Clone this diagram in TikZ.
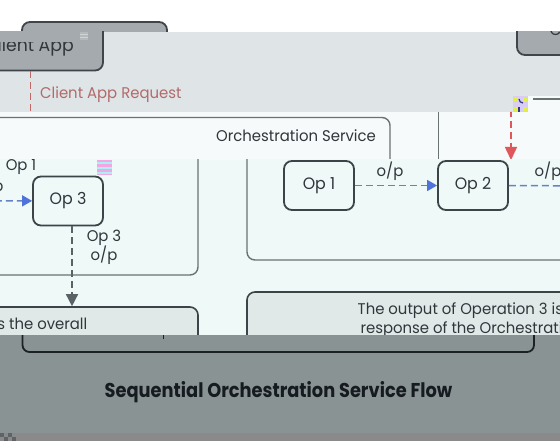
\documentclass[tikz,border=0pt]{standalone}
\usepackage{fontspec}
\setmainfont{Poppins}[FakeStretch=0.96]
\newfontfamily\titlefont{Poppins}[FakeStretch=0.89]
\usetikzlibrary{arrows.meta}
\definecolor{bgB}{HTML}{DFE4E6}
\definecolor{bgC}{HTML}{F6FAFA}
\definecolor{bgD}{HTML}{EFF9F8}
\definecolor{bgE}{HTML}{8A9393}
\definecolor{bgF}{HTML}{8A8A8A}
\definecolor{cafill}{HTML}{A4AAAD}
\definecolor{boxline}{HTML}{3F454A}
\definecolor{opline}{HTML}{3D4447}
\definecolor{contline}{HTML}{6B7272}
\definecolor{txt}{HTML}{30363A}
\definecolor{redtxt}{HTML}{B36A6A}
\definecolor{redlineB}{HTML}{C26868}
\definecolor{redarr}{HTML}{E0575B}
\definecolor{blueline}{HTML}{6582C8}
\definecolor{bluehead}{HTML}{4F73D9}
\definecolor{greyarr}{HTML}{5A6266}
\definecolor{outfill}{HTML}{E1E9E8}
\definecolor{bigline}{HTML}{1C2125}
\definecolor{titletxt}{HTML}{151B20}
\definecolor{glgrey}{HTML}{B4B9BC}
\definecolor{glgreyl}{HTML}{D0D3D6}
\definecolor{gllav}{HTML}{D9CCF5}
\definecolor{glyel}{HTML}{E4F04A}
\definecolor{glnavy}{HTML}{2C3A8A}
\definecolor{glpink}{HTML}{F4A6E4}
\definecolor{glcyan}{HTML}{A8F2F4}
\definecolor{glchk}{HTML}{5E6466}
\tikzset{
  cabox/.style={draw=boxline, line width=1.8pt, fill=cafill, rounded corners=8pt,
    minimum width=145pt, minimum height=48pt, inner sep=0pt,
    font=\fontsize{16}{18}\selectfont, text=txt},
  catext/.style={font=\fontsize{18}{20}\selectfont, text=txt, inner sep=0pt},
  opbox/.style={draw=opline, line width=1.8pt, fill=bgD, rounded corners=8pt,
    minimum width=70pt, minimum height=49pt, inner sep=0pt,
    font=\fontsize{16.5}{18}\selectfont, text=txt},
  lab/.style={font=\fontsize{15.5}{19}\selectfont, text=txt, inner sep=0pt, align=center},
  outbox/.style={draw=opline, line width=1.6pt, fill=outfill, rounded corners=8pt,
    minimum width=509pt, minimum height=57pt, inner sep=0pt, align=center,
    font=\fontsize{15.5}{19}\selectfont, text=txt},
  contbox/.style={draw=contline, line width=1.4pt, fill=bgD, rounded corners=8pt},
  contedge/.style={draw=contline, line width=1.4pt},
  bluearrow/.style={draw=blueline, line width=1.5pt, dash pattern=on 7pt off 4pt,
    -{Triangle[length=10pt,width=11pt,color=bluehead]}},
  greyarrow/.style={draw=greyarr, line width=1.5pt, dash pattern=on 7pt off 4pt,
    -{Triangle[length=12pt,width=12pt,color=greyarr]}},
  redarrow/.style={draw=redarr, line width=1.5pt, dash pattern=on 7pt off 4pt,
    -{Triangle[length=13pt,width=12pt,color=redarr]}},
  reddashB/.style={draw=redlineB, line width=1.5pt, dash pattern=on 7pt off 4pt},
  redlab/.style={font=\fontsize{15.5}{19}\selectfont, text=redtxt, inner sep=0pt},
  titlestyle/.style={font={\titlefont\bfseries\fontsize{20}{24}\selectfont}, text=titletxt, inner sep=0pt},
  bigbox/.style={draw=bigline, line width=1.8pt, rounded corners=7pt},
}
\newcommand{\opsdiagram}{%
  \draw[contbox] (247,60) rectangle (756,260);
  \node[opbox] (opa) at (319,185.5) {Op 1};
  \node[opbox] (opb) at (473,185.5) {Op 2};
  \node[opbox] (opc) at (626,186) {Op 3};
  \node[outbox] (outbox) at (501.5,320.5) {The output of Operation 3 is the overall\\response of the Orchestration Service.};
  \draw[bluearrow] (opa) -- (opb);
  \draw[bluearrow] (opb) -- (opc);
  \node[lab] (lab1) at (390,171) {o/p};
  \node[lab] (lab2) at (548,171) {o/p};
  \draw[greyarrow] ([xshift=4pt]opc.south) -- ([xshift=4pt]opc.south |- outbox.north);
  \node[lab] (lab3) at (662,232.5) {Op 3\\o/p};
}
\begin{document}
\begin{tikzpicture}[x=1pt,y=-1pt]
\useasboundingbox (0,0) rectangle (560,441);
% ---------- band A
\fill[white] (0,0) rectangle (560,32);
\begin{scope}
  \clip (0,0) rectangle (560,32);
  \node[cabox] (caA) at (94.5,46) {Client App};
\end{scope}
% ---------- band B
\fill[bgB] (0,32) rectangle (560,112);
\begin{scope}
  \clip (0,32) rectangle (560,112);
  \node[cabox] (caB) at (30.5,46.5) {};
  \node[cabox] (caW) at (589.5,31) {Client App};
  \coordinate (reqend) at (30.5,113);
  \draw[reddashB] (caB.south) -- (reqend);
  \node[redlab, anchor=west] (req) at (40,95) {Client App Request};
  \fill[glgrey] (80,32) rectangle (88,40);
  \fill[glgreyl] (80,34) rectangle (88,35.5);
  \fill[glgreyl] (80,37) rectangle (88,38.5);
\end{scope}
\begin{scope}
  \clip (0,42.5) rectangle (560,112);
  \node[catext, anchor=base] (caBtext) at (29,52) {Client App};
\end{scope}
% ---------- band C
\fill[bgC] (0,112) rectangle (560,160);
\fill[bgC] (513,96) rectangle (560,112);
\begin{scope}
  \clip (0,112) rectangle (560,160) (513,96) rectangle (560,112);
  \draw[contedge, rounded corners=8pt] (-10,117.5) -- (390,117.5) -- (390,175);
  \node[lab] (orch) at (296,136) {Orchestration Service};
  \draw[contedge] (438.5,112) -- (438.5,160);
  \draw[contedge] (533,99) -- (560,99);
  \coordinate (rtop) at (511,110);
  \coordinate (rtip) at (511,160);
  \draw[redarrow] (rtop) -- (rtip);
  \fill[gllav] (513,96) rectangle (528,112);
  \fill[glyel] (514,97) rectangle (518,101);
  \fill[glyel] (523,98) rectangle (527,102);
  \fill[glyel] (514,107) rectangle (518,111);
  \fill[glyel] (523,107) rectangle (527,111);
  \draw[glnavy, line width=1.2pt] (523,103) arc (90:180:4);
  \draw[glnavy, line width=1.2pt] (519,107) -- (519,112);
\end{scope}
% ---------- band D
\fill[bgD] (0,160) rectangle (560,335);
\begin{scope}
  \clip (222,160) rectangle (560,335);
  \begin{scope}[name prefix=R-]
    \opsdiagram
  \end{scope}
\end{scope}
\begin{scope}
  \clip (0,160) rectangle (222,335);
  \begin{scope}[shift={(-558,15)}, name prefix=L-]
    \opsdiagram
  \end{scope}
  \node[lab] (frag) at (21,167) {Op 1};
  \fill[glpink] (97,160) rectangle (112,175);
  \fill[glcyan] (97,162) rectangle (112,164);
  \fill[glcyan] (97,167) rectangle (112,169);
  \fill[glcyan] (97,172) rectangle (112,174);
\end{scope}
% ---------- band E
\fill[bgE] (0,335) rectangle (560,433);
\begin{scope}
  \clip (0,335) rectangle (560,433);
  \draw[bigbox] (22.5,300) rectangle (534,352);
  \draw[bigline, line width=1pt] (163,335) -- (163,339);
  \node[titlestyle] (title) at (278.5,392) {Sequential Orchestration Service Flow};
\end{scope}
% ---------- band F
\fill[bgF] (0,433) rectangle (560,441);
\fill[glchk] (0,433) rectangle (4,437);
\fill[glchk] (8,433) rectangle (12,437);
\fill[glchk] (4,437) rectangle (8,441);
\fill[glchk] (12,437) rectangle (16,441);
\end{tikzpicture}
\end{document}
